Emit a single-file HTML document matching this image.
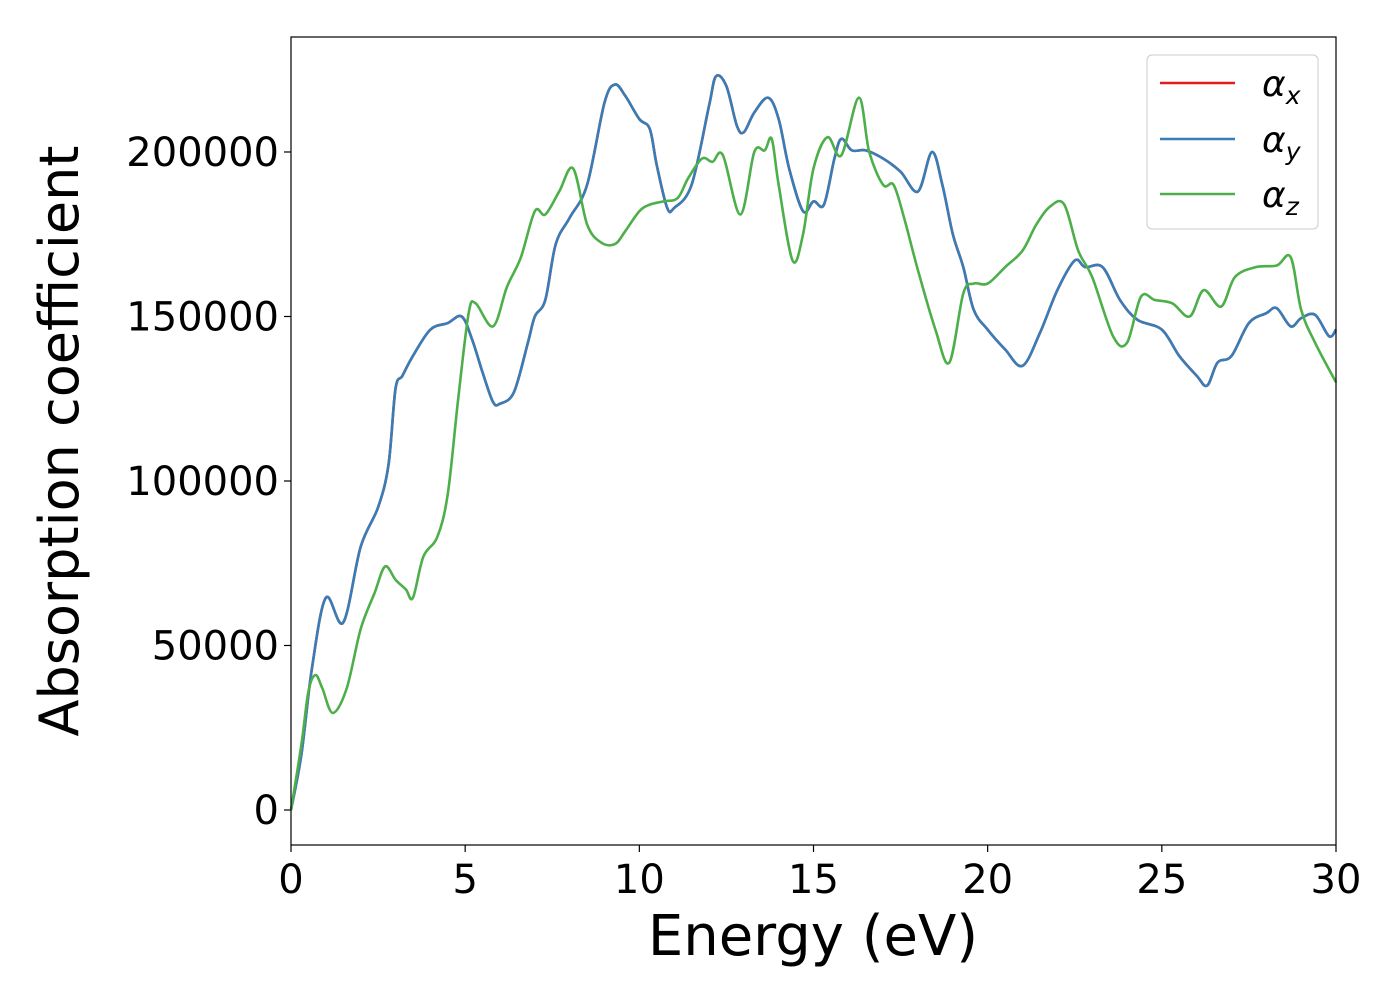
<!DOCTYPE html>
<html><head><meta charset="utf-8"><style>
body{margin:0;background:#fff}
svg{font-family:"DejaVu Sans","Liberation Sans",sans-serif}
</style></head><body>
<svg id="chart" width="1400" height="1000" xmlns="http://www.w3.org/2000/svg">
<rect x="0" y="0" width="1400" height="1000" fill="#fff"/>
<g id="ticks"></g>
<g id="plot"></g>
<rect x="291" y="37" width="1045" height="808" fill="none" stroke="#000" stroke-width="1.2"/>
<text x="813" y="955" font-size="56" text-anchor="middle">Energy (eV)</text>
<text transform="translate(78,441) rotate(-90)" font-size="54" text-anchor="middle">Absorption coefficient</text>
<g>
<rect x="1147" y="55" width="171" height="174" rx="5" fill="#fff" fill-opacity="0.8" stroke="#ccc" stroke-width="1"/>
<line x1="1160" y1="83" x2="1235" y2="83" stroke="#e41a1c" stroke-width="2.5"/>
<line x1="1160" y1="139" x2="1235" y2="139" stroke="#377eb8" stroke-width="2.5"/>
<line x1="1160" y1="194" x2="1235" y2="194" stroke="#4daf4a" stroke-width="2.5"/>
<text x="1262" y="96" font-size="36" font-style="italic">α<tspan font-size="25" dy="8">x</tspan></text>
<text x="1262" y="152" font-size="36" font-style="italic">α<tspan font-size="25" dy="8">y</tspan></text>
<text x="1262" y="207" font-size="36" font-style="italic">α<tspan font-size="25" dy="8">z</tspan></text>
</g>
</svg>
<script>
const xTicks=[0,5,10,15,20,25,30];
const yTicks=[0,50000,100000,150000,200000];
const eXY=[0,0.3,0.6,1.0,1.5,2.0,2.5,2.8,3.0,3.2,3.5,4.0,4.5,4.9,5.2,5.5,5.8,6.0,6.4,6.8,7.0,7.3,7.6,8.0,8.5,9.0,9.3,9.6,10.0,10.3,10.5,10.8,11.0,11.5,12.0,12.2,12.5,12.8,13.0,13.3,13.7,14.0,14.3,14.7,15.0,15.3,15.6,15.8,16.1,16.5,17.0,17.5,18.0,18.4,18.7,19.0,19.3,19.6,20.0,20.5,21.0,21.5,22.0,22.5,22.8,23.3,23.8,24.3,25.0,25.5,26.0,26.3,26.6,27.0,27.5,28.0,28.3,28.7,29.0,29.4,29.8,30.0];
const alphaX=[0,17000,43000,64500,57000,80000,92000,105000,128000,132000,138000,146000,148000,150000,143000,133000,124000,123500,127000,142000,150000,155000,172000,180000,190000,215000,220500,217000,210000,207000,196000,183000,183000,190000,214000,223000,220000,208000,206000,212000,216500,210000,195000,182000,185000,184000,198000,204000,200500,200500,198000,194000,188000,200000,190000,175000,165000,152000,146000,140000,135000,145000,158000,167000,165000,165000,155000,149000,146000,138000,132000,129000,136000,138000,148000,151000,152500,147000,149500,150500,144000,146000];
const alphaY=alphaX.slice();
const eZ=[0,0.3,0.5,0.7,0.9,1.2,1.6,2.0,2.4,2.7,3.0,3.3,3.5,3.8,4.2,4.5,4.8,5.1,5.3,5.8,6.2,6.6,7.0,7.3,7.7,8.1,8.5,8.9,9.3,9.6,10.0,10.3,10.7,11.1,11.4,11.8,12.1,12.4,12.9,13.3,13.6,13.8,14.0,14.4,14.7,15.0,15.4,15.8,16.3,16.6,17.0,17.3,17.6,18.0,18.5,18.9,19.3,19.6,20.0,20.5,21.0,21.4,21.8,22.2,22.6,23.0,23.6,24.0,24.4,24.8,25.3,25.8,26.2,26.7,27.1,27.7,28.3,28.7,29.0,29.4,30.0];
const alphaZ=[0,20000,36000,41000,37000,29500,37000,55000,66000,74000,70000,67000,64500,77000,83000,96000,125000,151000,154000,147000,159000,168000,182000,181000,188000,195000,178000,172500,172000,176000,182000,184000,185000,186000,192000,198000,197000,199000,181000,200000,200500,204000,190000,167000,175000,195000,204500,199000,216500,200000,190000,190000,180000,164000,146000,136000,157000,160000,160000,165000,170000,178000,183500,184000,170000,162000,144000,142000,156000,155000,154000,150000,158000,153000,162000,165000,165500,168000,152000,142000,130000];
const X=v=>291+(v-0)*(1045/30);
const Y=v=>845-(v+10640)*(808/(234950+10640));
const NS='http://www.w3.org/2000/svg';
const tg=document.getElementById('ticks'), pg=document.getElementById('plot');
function mk(tag,attrs,parent){const e=document.createElementNS(NS,tag);for(const k in attrs)e.setAttribute(k,attrs[k]);parent.appendChild(e);return e;}
xTicks.forEach(t=>{
  const l=mk('line',{x1:X(t),x2:X(t),y1:845,y2:852,stroke:'#000','stroke-width':1.2},tg);
  
  
  const tx=mk('text',{x:X(t),y:893,'font-size':40,'text-anchor':'middle'},tg);
  tx.textContent=t;
  
  
});
yTicks.forEach(t=>{
  const l=mk('line',{x1:284,x2:291,y1:Y(t),y2:Y(t),stroke:'#000','stroke-width':1.2},tg);
  
  
  const tx=mk('text',{x:279,y:Y(t)+14,'font-size':40,'text-anchor':'end'},tg);
  tx.textContent=t;
  
  
});
function pathD(xs,ys){
  const p=xs.map((x,i)=>[X(x),Y(ys[i])]);
  let d='M'+p[0][0]+','+p[0][1];
  for(let i=0;i<p.length-1;i++){
    const p0=p[Math.max(0,i-1)],p1=p[i],p2=p[i+1],p3=p[Math.min(p.length-1,i+2)];
    const c1=[p1[0]+(p2[0]-p0[0])/6,p1[1]+(p2[1]-p0[1])/6];
    const c2=[p2[0]-(p3[0]-p1[0])/6,p2[1]-(p3[1]-p1[1])/6];
    d+=' C'+c1+' '+c2+' '+p2;
  }
  return d;
}
const series=[[eXY,alphaX,'#e41a1c','series-alpha-x'],[eXY,alphaY,'#377eb8','series-alpha-y'],[eZ,alphaZ,'#4daf4a','series-alpha-z']];
series.forEach(s=>{
  const p=mk('path',{d:pathD(s[0],s[1]),fill:'none',stroke:s[2],'stroke-width':2.6,'stroke-linejoin':'round'},pg);
  
  
});
</script>
</body></html>
